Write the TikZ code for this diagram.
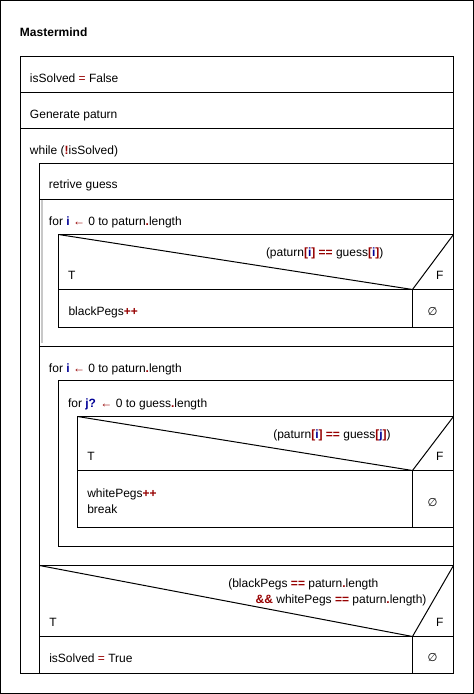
\documentclass[tikz,border=0pt]{standalone}
\usepackage{fontspec}
\setmainfont{Liberation Sans}
\newfontfamily\dejavu{DejaVu Sans}
\definecolor{opred}{RGB}{150,0,0}
\definecolor{varblue}{RGB}{0,0,150}
\definecolor{bargray}{RGB}{200,200,200}
\newcommand\opr[1]{{\color{opred}\bfseries #1}}
\newcommand\opn[1]{{\color{opred}#1}}
\newcommand\vrb[1]{{\color{varblue}\bfseries #1}}
\newcommand\nullsym{{\dejavu\itshape\fontsize{8.5pt}{10pt}\selectfont ∅}}
\begin{document}
\begin{tikzpicture}[x=0.75pt,y=-0.75pt,line width=0.75pt,
  every node/.style={inner sep=0pt,outer sep=0pt,font=\fontsize{9pt}{12pt}\selectfont},
  txt/.style={anchor=base west},
  nul/.style={anchor=center}]
\useasboundingbox (0,0) rectangle (474,694);
\draw (0.5,0.5) rectangle (473.5,693.5);
% title
\node[txt,font=\fontsize{9pt}{12pt}\selectfont\bfseries] (title) at (20,36.5) {Mastermind};
% main box
\draw (20.5,56.5) rectangle (453.5,673.5);
\draw (20.5,92.5) -- (453.5,92.5);
\draw (20.5,128.5) -- (453.5,128.5);
\node[txt] (s1) at (30,82.5) {isSolved \opn{=} False};
\node[txt] (s2) at (30,118.3) {Generate paturn};
\node[txt] (w) at (30,154.5) {while (\opr{!}isSolved)};
% while body
\draw (39.5,673.5) -- (39.5,163.5) -- (453.5,163.5);
\draw (39.5,199.5) -- (453.5,199.5);
\node[txt] (rg) at (49,188.5) {retrive guess};
% for loop 1
\fill[bargray] (41,200) rectangle (43,343);
\node[txt] (f1) at (49,225) {for \vrb{i} \opr{←} 0 to paturn\opr{.}length};
\draw (58.5,234.5) rectangle (453.5,327.5);
\draw (58.5,234.5) -- (412.5,289.5) -- (453.5,234.5);
\draw (58.5,289.5) -- (453.5,289.5);
\draw (412.5,289.5) -- (412.5,327.5);
\node[txt] (c1) at (266,256.5) {(paturn\opr{[}\vrb{i}\opr{]} \opr{==} guess\opr{[}\vrb{i}\opr{]})};
\node[txt] (t1) at (68,279.3) {T};
\node[txt] (fa1) at (436,279.3) {F};
\node[txt] (bp) at (68.5,315.7) {blackPegs\opr{++}};
\node[nul] (n1) at (432.5,311.5) {\nullsym};
% for loop 2
\draw (39.5,346.5) -- (453.5,346.5);
\node[txt] (f2) at (49,372) {for \vrb{i} \opr{←} 0 to paturn\opr{.}length};
\draw (453.5,380.5) -- (58.5,380.5) -- (58.5,546.5) -- (453.5,546.5);
\node[txt] (f3) at (68,407.5) {for \vrb{j?} \opr{←} 0 to guess\opr{.}length};
\draw (453.5,416.5) -- (77.5,416.5) -- (77.5,527.5) -- (453.5,527.5);
\draw (77.5,416.5) -- (412.5,470.5) -- (453.5,416.5);
\draw (77.5,470.5) -- (453.5,470.5);
\draw (412.5,470.5) -- (412.5,527.5);
\node[txt] (c2) at (273.3,438.7) {(paturn\opr{[}\vrb{i}\opr{]} \opr{==} guess\opr{[}\vrb{j}\opr{]})};
\node[txt] (t2) at (87.3,460.7) {T};
\node[txt] (fa2) at (436,460.7) {F};
\node[txt] (wp) at (87.3,497) {whitePegs\opr{++}};
\node[txt] (br) at (87.3,513.3) {break};
\node[nul] (n2) at (432.5,502.7) {\nullsym};
% final if
\draw (39.5,565.5) -- (453.5,565.5);
\draw (39.5,565.5) -- (412.5,636.5) -- (453.5,565.5);
\draw (39.5,636.5) -- (453.5,636.5);
\draw (412.5,636.5) -- (412.5,673.5);
\node[txt] (c3a) at (228.3,587.3) {(blackPegs \opr{==} paturn\opr{.}length};
\node[txt] (c3b) at (255.7,603.3) {\opr{\&\&} whitePegs \opr{==} paturn\opr{.}length)};
\node[txt] (t3) at (49.3,626) {T};
\node[txt] (fa3) at (436,626) {F};
\node[txt] (s3) at (49.3,662.3) {isSolved \opn{=} True};
\node[nul] (n3) at (432.5,657.5) {\nullsym};
\end{tikzpicture}
\end{document}
